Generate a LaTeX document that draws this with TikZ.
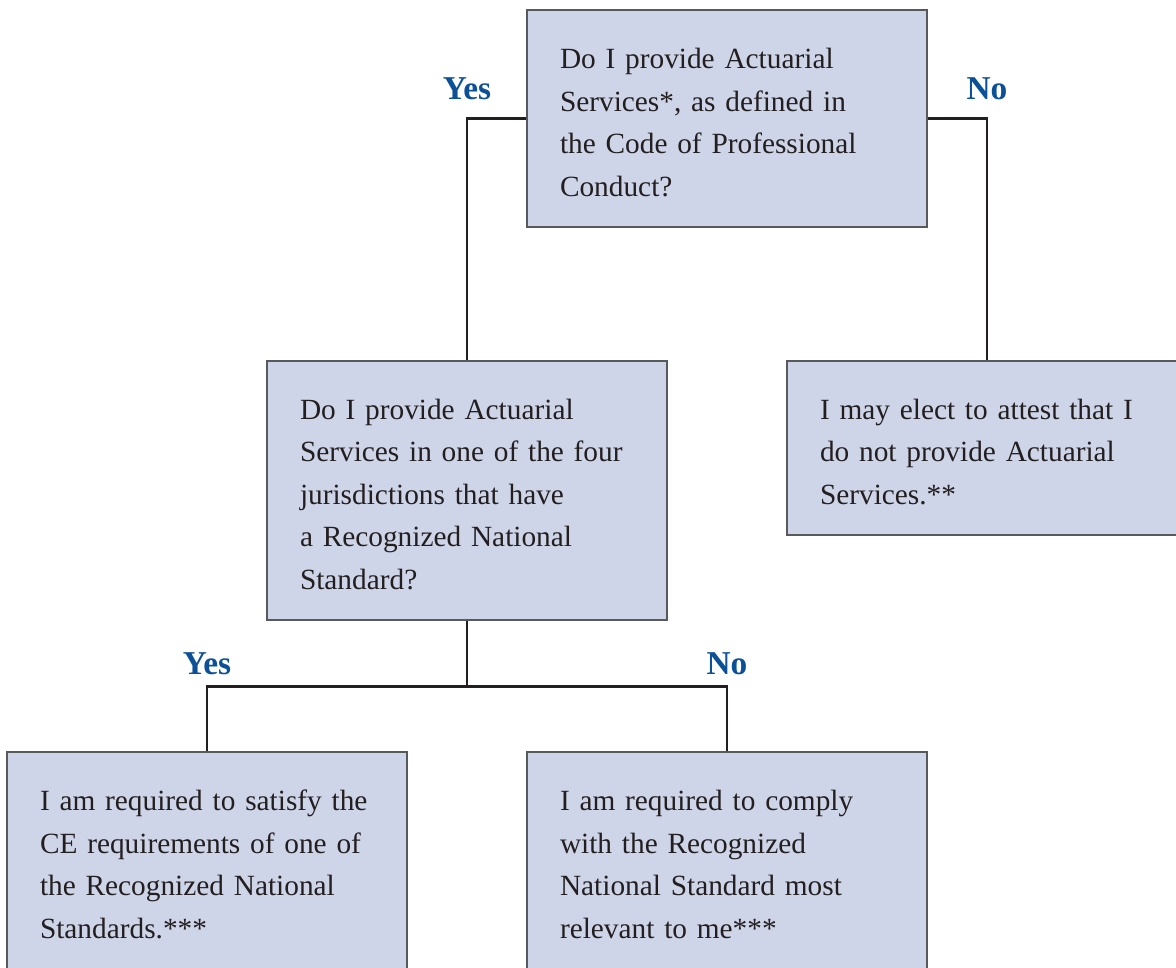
\documentclass[tikz,border=0pt]{standalone}
\usepackage{fontspec}
\setmainfont{Liberation Serif}
\usetikzlibrary{positioning}
\definecolor{boxfill}{RGB}{207,213,232}
\definecolor{boxline}{RGB}{88,89,91}
\definecolor{ansblue}{RGB}{12,80,152}
\definecolor{ink}{RGB}{35,31,32}

\begin{document}
\begin{tikzpicture}[-,node distance=285pt,
  main node/.style={rectangle, draw=boxline, line width=1pt, fill=boxfill, text=ink, text width=250.5pt, inner xsep=24.75pt, inner ysep=0pt, align=left, font=\fontsize{22pt}{31.9pt}\selectfont, execute at begin node={\rule{0pt}{21pt}}},
  answer/.style={text=ansblue, anchor=base, font=\fontsize{25pt}{28pt}\selectfont\bfseries},
  link/.style={draw=ink, line width=2pt}]
		% page and cut-off edges
		\useasboundingbox (0,0) rectangle (882pt,-725.25pt);
		\clip (0,0) rectangle (882pt,-725.25pt);
		% questions and outcomes
		\node [main node, minimum height=162.75pt](Q1) at (545.25pt,-88.875pt) {Do I provide Actuarial\\Services*, as defined in\\the Code of Professional\\Conduct?};
		\node [main node, minimum height=194.25pt](Q2) [below of = Q1, xshift = -195pt, yshift = 6pt] {Do I provide Actuarial\\Services in one of the four\\jurisdictions that have\\a Recognized National\\Standard?};
		\node [main node, minimum height=130.5pt](NOSERV) [below of = Q1, xshift = 195pt, yshift = 37.875pt] {I may elect to attest that I\\do not provide Actuarial\\Services.**};
		\node [main node, minimum height=177.75pt](CE) [below of = Q2, xshift = -195pt] {I am required to satisfy the\\CE requirements of one of\\the Recognized National\\Standards.***\rule[-15pt]{0pt}{0pt}};
		\node [main node, minimum height=177.75pt](RNS) [below of = Q2, xshift = 195pt] {I am required to comply\\with the Recognized\\National Standard most\\relevant to me***\rule[-15pt]{0pt}{0pt}};

		\draw [link] (Q1.west) -| node [answer, pos=0.5, yshift=14pt]{Yes} (Q2.north);
		\draw [link] (Q1.east) -| node [answer, pos=0.5, yshift=14pt]{No} (NOSERV.north);
		\draw [link] (Q2.south) -- ++(0,-49.5pt) coordinate (fork);
		\draw [link] (CE.north) |- node [answer, pos=0.5, yshift=8.8pt]{Yes} (fork) -| node [answer, pos=0.5, yshift=8.8pt]{No} (RNS.north);
\end{tikzpicture}
\end{document}
